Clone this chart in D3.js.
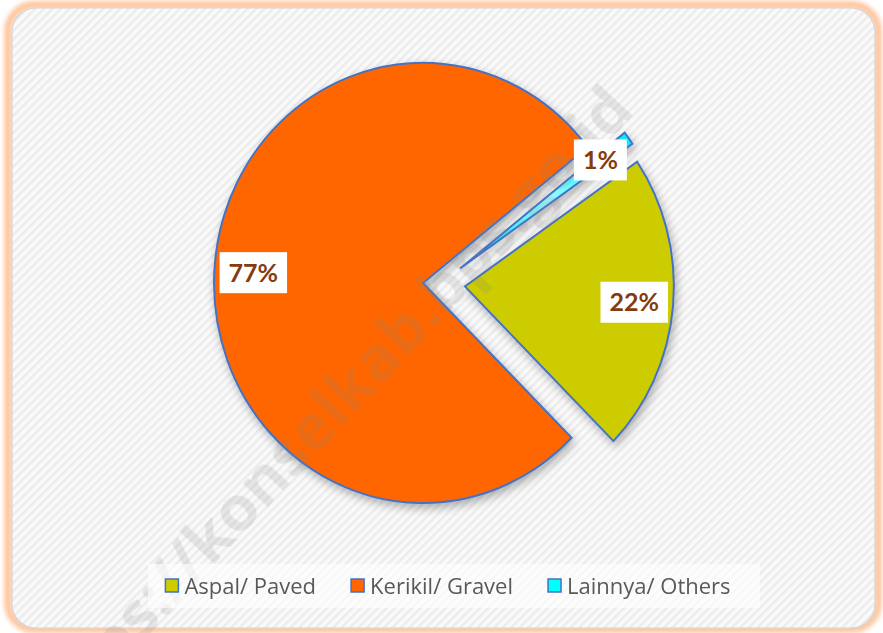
<!DOCTYPE html>
<html>
<head>
<meta charset="utf-8">
<script src="https://cdn.jsdelivr.net/npm/d3@7"></script>
<style>
  body { margin: 0; background: #fff; }
  svg { display: block; }
</style>
</head>
<body>
<div id="pieChart"></div>
<script>
// Data
var categories = ["Aspal/ Paved", "Kerikil/ Gravel", "Lainnya/ Others"];
var values = [22, 77, 1];
var labels = ["22%", "77%", "1%"];
var colors = ["#CCCC00", "#FF6600", "#00FFFF"];

var width = 883,
  height = 633;

var cx = 440,
  cy = 284,
  radius = 209,
  yStretch = 1.053;
var firstAngle = 55.5; // degrees, first slice starts here
var explode = [25, 17, 25];
var labelR = [170, 170, 174];

var svg = d3
  .select("#pieChart")
  .append("svg")
  .attr("width", width)
  .attr("height", height);

var defs = svg.append("defs");

// background stripes
var pat = defs
  .append("pattern")
  .attr("id", "stripes")
  .attr("patternUnits", "userSpaceOnUse")
  .attr("width", 6)
  .attr("height", 6)
  .attr("patternTransform", "rotate(45)");
pat.append("rect").attr("width", 6).attr("height", 6).attr("fill", "#fafafa");
pat.append("rect").attr("width", 2.5).attr("height", 6).attr("fill", "#ececec");

var glow = defs.append("filter").attr("id", "glow")
  .attr("x", "-5%").attr("y", "-5%").attr("width", "110%").attr("height", "110%");
glow.append("feGaussianBlur").attr("stdDeviation", 2);

var shadow = defs.append("filter").attr("id", "shadow")
  .attr("x", "-20%").attr("y", "-20%").attr("width", "140%").attr("height", "140%");
shadow.append("feDropShadow")
  .attr("dx", 2).attr("dy", 4).attr("stdDeviation", 5)
  .attr("flood-color", "#000").attr("flood-opacity", 0.3);

var cyanGrad = defs.append("radialGradient").attr("id", "cyanGrad");
cyanGrad.append("stop").attr("offset", "0%").attr("stop-color", "#9ffcff");
cyanGrad.append("stop").attr("offset", "100%").attr("stop-color", "#00f0ff");

// frame
svg.append("rect")
  .attr("x", 8).attr("y", 5).attr("width", 870).attr("height", 624)
  .attr("rx", 26)
  .attr("fill", "none")
  .attr("stroke", "#FFC7A0")
  .attr("stroke-width", 8)
  .attr("filter", "url(#glow)");

svg.append("rect")
  .attr("x", 12).attr("y", 8).attr("width", 863).attr("height", 620)
  .attr("rx", 24)
  .attr("fill", "url(#stripes)")
  .attr("stroke", "#d4d4d4")
  .attr("stroke-width", 1.2);

// pie
var pie = d3.pie().sort(null).value(function (d) { return d; })
  .startAngle(firstAngle * Math.PI / 180)
  .endAngle(firstAngle * Math.PI / 180 + 2 * Math.PI);
var arc = d3.arc().innerRadius(0).outerRadius(radius);
var arcs = pie(values);

function mid(d) { return (d.startAngle + d.endAngle) / 2; }
function offset(d, r) {
  var a = mid(d);
  return [r * Math.sin(a), -r * Math.cos(a) * yStretch];
}

var g = svg.append("g")
  .attr("transform", "translate(" + cx + "," + cy + ")")
  .attr("filter", "url(#shadow)");

g.selectAll(".slice")
  .data(arcs)
  .enter()
  .append("path")
  .attr("class", "slice")
  .attr("transform", function (d, i) {
    var o = offset(d, explode[i]);
    return "translate(" + o[0] + "," + o[1] + ") scale(1," + yStretch + ")";
  })
  .attr("d", arc)
  .attr("fill", function (d, i) { return i == 2 ? "url(#cyanGrad)" : colors[i]; })
  .attr("stroke", "#4472C4")
  .attr("stroke-width", 2)
  .attr("vector-effect", "non-scaling-stroke")
  .attr("stroke-linejoin", "miter");

// watermark
svg.append("text")
  .attr("transform", "translate(636,112) rotate(-47)")
  .attr("text-anchor", "end")
  .attr("font-family", "Open Sans, sans-serif")
  .attr("font-weight", "bold")
  .attr("font-size", 63)
  .attr("fill", "#808080")
  .attr("fill-opacity", 0.17)
  .text("https://konselkab.bps.go.id");

// data labels
var lab = svg.selectAll(".lab")
  .data(arcs)
  .enter()
  .append("g")
  .attr("class", "lab")
  .attr("transform", function (d, i) {
    var o = offset(d, explode[i]);
    var l = offset(d, labelR[i]);
    return "translate(" + (cx + o[0] + l[0]) + "," + (cy + o[1] + l[1]) + ")";
  });

lab.append("rect").attr("fill", "#fff");
lab.append("text")
  .attr("text-anchor", "middle")
  .attr("dy", "0.36em")
  .attr("font-family", "Lato, Open Sans, sans-serif")
  .attr("font-weight", "bold")
  .attr("font-size", 25)
  .attr("fill", "#843C0C")
  .text(function (d, i) { return labels[i]; });

lab.each(function () {
  var t = d3.select(this).select("text").node().getBBox();
  d3.select(this).select("rect")
    .attr("x", t.x - 9).attr("y", -20.5)
    .attr("width", t.width + 18).attr("height", 41);
});

// legend
var legend = svg.append("g");
legend.append("rect")
  .attr("x", 148).attr("y", 564).attr("width", 612).attr("height", 44)
  .attr("fill", "#fff").attr("fill-opacity", 0.6);

var items = legend.selectAll(".item")
  .data(categories)
  .enter()
  .append("g")
  .attr("class", "item");

items.append("rect")
  .attr("width", 13).attr("height", 13)
  .attr("y", 579)
  .attr("fill", function (d, i) { return colors[i]; })
  .attr("stroke", "#4472C4")
  .attr("stroke-width", 1.5);

items.append("text")
  .attr("y", 594)
  .attr("font-family", "Open Sans, sans-serif")
  .attr("font-size", 22)
  .attr("fill", "#595959")
  .text(function (d) { return d; });

var xPos = 0;
var pos = [];
items.each(function () {
  var w = d3.select(this).select("text").node().getComputedTextLength();
  pos.push(xPos);
  xPos += 13 + 6 + w + 35;
});
var total = xPos - 35;
var startX = 448 - total / 2;
items.each(function (d, i) {
  var it = d3.select(this);
  it.select("rect").attr("x", startX + pos[i]);
  it.select("text").attr("x", startX + pos[i] + 19);
});
</script>
</body>
</html>
